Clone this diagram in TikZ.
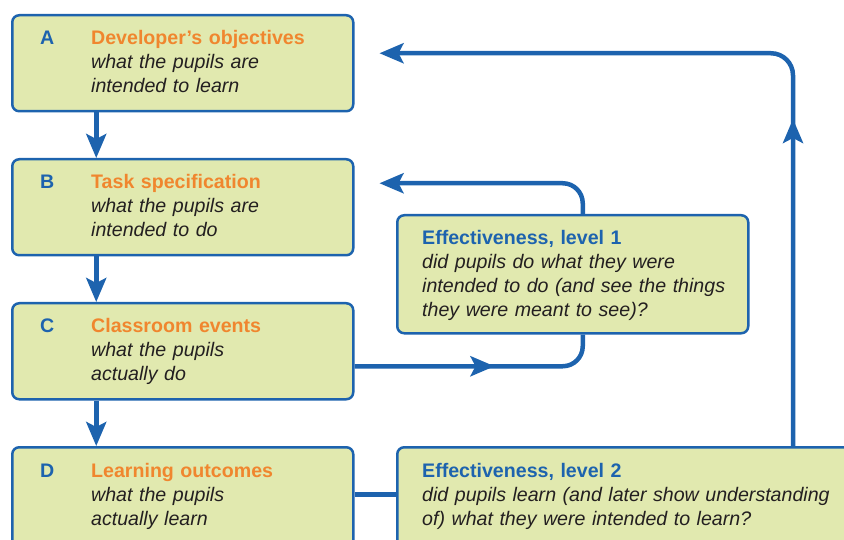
\documentclass[tikz,border=0pt]{standalone}
\usepackage{fontspec}
\setmainfont{Liberation Sans}
\usetikzlibrary{arrows.meta,decorations.markings}

\definecolor{boxfill}{HTML}{E1E9AF}
\definecolor{boxline}{HTML}{1D63AE}
\definecolor{headorange}{HTML}{F0862E}
\definecolor{bodytext}{HTML}{231F20}

\newcommand{\stageW}{341pt}
\newcommand{\stageH}{96pt}
\newcommand{\arrowOffx}{-86.5pt}

\begin{document}
\begin{tikzpicture}[x=1pt,y=-1pt,
  stage/.style={draw=boxline, line width=2.5pt, fill=boxfill, rounded corners=7pt,
                anchor=north west, inner sep=0pt},
  letter/.style={anchor=base west, inner sep=0pt, text=boxline,
                 font=\fontsize{19.6}{24}\selectfont\bfseries},
  body/.style={anchor=base west, inner sep=0pt, text=bodytext, text width=440pt, align=left,
               font=\fontsize{19.6}{24}\selectfont},
  link/.style={color=boxline, line width=4.5pt},
  tip/.style={-{Stealth[length=24pt,width=20pt,inset=5pt]}},
  midtip/.style={postaction={decorate}, decoration={markings,
                 mark=at position #1 with {\arrow{Stealth[length=24pt,width=20pt,inset=5pt]}}}}]

  \useasboundingbox (0,0) rectangle (844,540);
  \clip (0,0) rectangle (844,540);

  % Stages:
  \node[stage, minimum width=\stageW, minimum height=\stageH] (boxA) at (11,14)  {};
  \node[stage, minimum width=\stageW, minimum height=\stageH] (boxB) at (11,158) {};
  \node[stage, minimum width=\stageW, minimum height=\stageH] (boxC) at (11,302) {};
  \node[stage, minimum width=\stageW, minimum height=118pt]   (boxD) at (11,446) {};

  % Effectiveness:
  \node[stage, minimum width=351pt, minimum height=118pt] (effA) at (396,214) {};
  \node[stage, minimum width=485pt, minimum height=118pt] (effB) at (396,446) {};

  % Texts:
  \node[letter] (letA) at (40,45)  {A};
  \node[letter] (letB) at (40,189) {B};
  \node[letter] (letC) at (40,333) {C};
  \node[letter] (letD) at (40,477) {D};

  \node[body] (txtA) at (91,45)  {{\color{headorange}\bfseries Developer’s objectives}\\
    \itshape what the pupils are\\ intended to learn};
  \node[body] (txtB) at (91,189) {{\color{headorange}\bfseries Task specification}\\
    \itshape what the pupils are\\ intended to do};
  \node[body] (txtC) at (91,333) {{\color{headorange}\bfseries Classroom events}\\
    \itshape what the pupils\\ actually do};
  \node[body] (txtD) at (91,477) {{\color{headorange}\bfseries Learning outcomes}\\
    \itshape what the pupils\\ actually learn};

  \node[body] (txtE) at (422,245) {{\color{boxline}\bfseries Effectiveness, level 1}\\
    \itshape did pupils do what they were\\ intended to do (and see the things\\
    they were meant to see)?};
  \node[body] (txtF) at (422,477) {{\color{boxline}\bfseries Effectiveness, level 2}\\
    \itshape did pupils learn (and later show understanding\\
    of) what they were intended to learn?};

  % Main chain:
  \draw[link, tip] ([xshift=\arrowOffx]boxA.south) -- ([xshift=\arrowOffx]boxB.north);
  \draw[link, tip] ([xshift=\arrowOffx]boxB.south) -- ([xshift=\arrowOffx]boxC.north);
  \draw[link, tip] ([xshift=\arrowOffx]boxC.south) -- ([xshift=\arrowOffx]boxD.north);

  % Level 1 loop:
  \draw[link, rounded corners=20pt, midtip=140pt] ([yshift=-15pt]boxC.east) -| ([xshift=10pt]effA.south);
  \draw[link, tip, rounded corners=20pt] ([xshift=10pt]effA.north) |- ([xshift=25pt,yshift=24pt]boxB.east);

  % Level 2 loop:
  \draw[link] ([yshift=12pt]boxD.east) -- ([yshift=12pt]effB.west);
  \draw[link, tip, rounded corners=22pt, midtip=327pt] ([xshift=397pt]effB.north west) |- ([xshift=25pt,yshift=10pt]boxA.east);

\end{tikzpicture}
\end{document}
